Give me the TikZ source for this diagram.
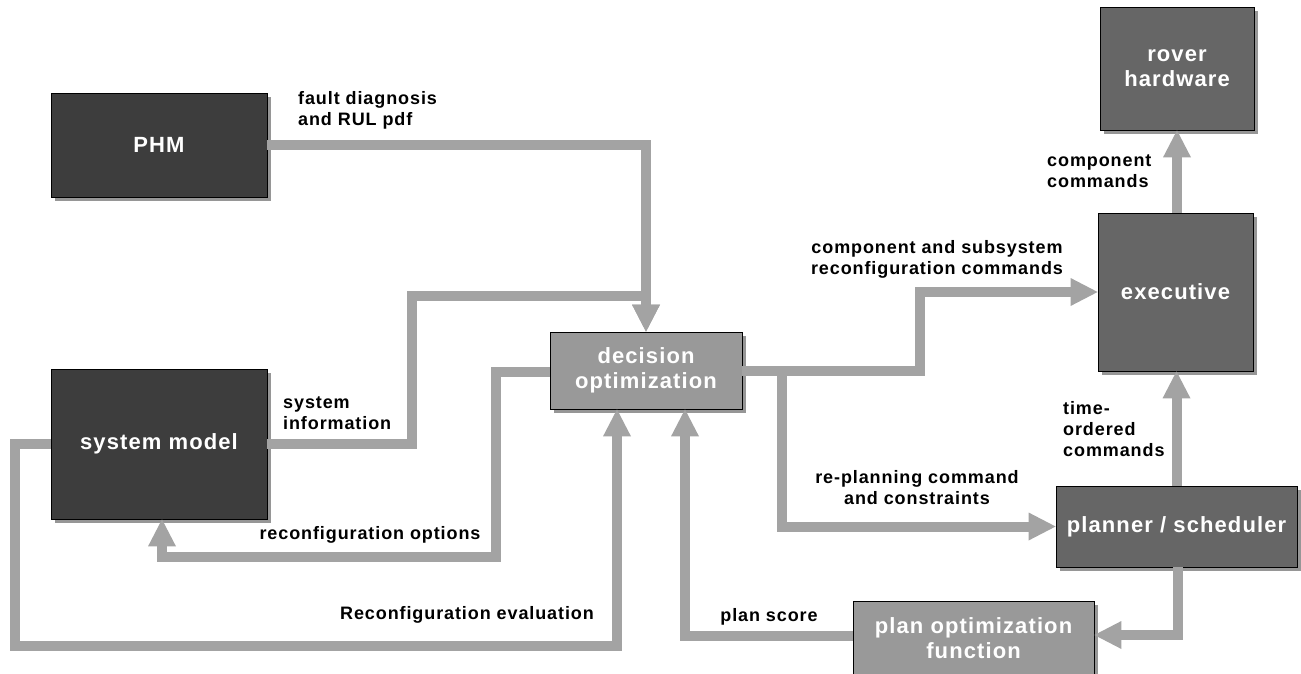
\documentclass[tikz,border=0pt]{standalone}
\usepackage{fontspec}
\setmainfont{Liberation Sans}
\newfontfamily\dfont{Liberation Sans}[LetterSpace=5]
\usetikzlibrary{arrows.meta,shadows}
\definecolor{conngray}{RGB}{163,163,163}
\definecolor{darkbox}{RGB}{61,61,61}
\definecolor{midbox}{RGB}{102,102,102}
\definecolor{lightbox}{RGB}{153,153,153}
\definecolor{shadowgray}{RGB}{150,150,150}
\begin{document}
\begin{tikzpicture}[x=1pt,y=-1pt,
  box/.style={draw=black, line width=0.8pt, inner sep=0pt, text=white, align=center,
    font=\dfont\bfseries\fontsize{22}{25}\selectfont,
    drop shadow={shadow xshift=4pt, shadow yshift=-4pt, fill=shadowgray, opacity=1}},
  darkb/.style={box, fill=darkbox},
  midb/.style={box, fill=midbox},
  lightb/.style={box, fill=lightbox},
  lbl/.style={inner sep=0pt, font=\dfont\bfseries\fontsize{18}{21}\selectfont, text=black},
  conn/.style={draw=conngray, line width=10pt, line join=miter,
    -{Triangle[width=28pt,length=27pt,line width=0pt]}}
]
\useasboundingbox (0,0) rectangle (1301,674);
\fill[white] (0,0) rectangle (1301,674);

% boxes
\node[darkb, minimum width=216pt, minimum height=104pt] (phm) at (159,145) {PHM};
\node[darkb, minimum width=216pt, minimum height=150pt] (sys) at (159,444) {system model};
\node[lightb, minimum width=192pt, minimum height=77pt] (dec) at (646,370.5) {decision\\optimization};
\node[midb, minimum width=154pt, minimum height=123pt] (rov) at (1177,68.5) {rover\\hardware};
\node[midb, minimum width=155pt, minimum height=158pt] (exe) at (1175.5,292) {executive};
\node[midb, minimum width=241pt, minimum height=81pt] (pln) at (1176.5,526.5) {planner / scheduler};
\node[lightb, minimum width=241pt, minimum height=75pt] (pof) at (973.5,638.5) {plan optimization\\function};

% bend points
\coordinate (j1) at (412,296);
\coordinate (c2) at (496,557);
\coordinate (c3) at (15,646);
\coordinate (c4) at (920,292);

% connectors
\draw[conn] (phm.east) -| (dec.north);
\draw[conn] (sys.east) -| (j1) -| (dec.north);
\draw[conn] ([yshift=-1.5pt]dec.west) -| (c2) -| ([xshift=3pt]sys.south);
\draw[conn] (sys.west) -| (c3) -| ([xshift=-29pt]dec.south);
\draw[conn] ([yshift=2.5pt]pof.west) -| ([xshift=39pt]dec.south);
\draw[conn] (dec.east) -| (c4) -- (exe.west);
\draw[conn] ([xshift=40pt]dec.east) |- (pln.west);
\draw[conn] ([xshift=1.5pt]pln.south) |- ([yshift=3.5pt]pof.east);
\draw[conn] (pln.north) -- (pln.north |- exe.south);
\draw[conn] ([xshift=1.5pt]exe.north) -- ([xshift=1.5pt]exe.north |- rov.south);

% labels
\node[lbl, anchor=west, align=left] (l1) at (298,110) {fault diagnosis\\and RUL pdf};
\node[lbl, anchor=west, align=left] (l2) at (283,413) {system\\information};
\node[lbl, align=center] (l3) at (937,259) {component and subsystem\\reconfiguration commands};
\node[lbl, anchor=west, align=left] (l4) at (1047,171) {component\\commands};
\node[lbl, anchor=west, align=left] (l5) at (1063,429) {time-\\ordered\\commands};
\node[lbl, align=center] (l6) at (917,488) {re-planning command\\and constraints};
\node[lbl] (l7) at (370,535) {reconfiguration options};
\node[lbl] (l8) at (467,615) {Reconfiguration evaluation};
\node[lbl] (l9) at (769,617) {plan score};
\end{tikzpicture}
\end{document}
